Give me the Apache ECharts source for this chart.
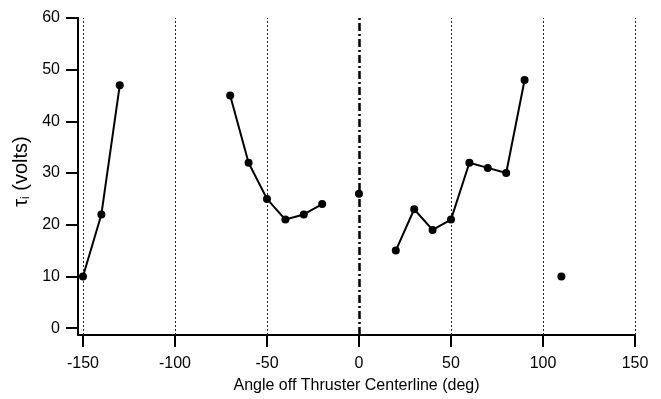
<!DOCTYPE html>
<html>
<head>
<meta charset="utf-8">
<script src="https://cdn.jsdelivr.net/npm/echarts@6/dist/echarts.min.js"></script>
<style>
  html, body { margin: 0; padding: 0; background: #fff; }
  #chart { width: 661px; height: 399px; }
</style>
</head>
<body>
<div id="chart"></div>
<script>
// Ion temperature vs. angle, measured in separate sweeps
const sweepA_angle = [-150, -140, -130];
const sweepA_tau   = [10, 22, 47];
const sweepB_angle = [-70, -60, -50, -40, -30, -20];
const sweepB_tau   = [45, 32, 25, 21, 22, 24];
const centerAngle  = [0];
const centerTau    = [26];
const sweepC_angle = [20, 30, 40, 50, 60, 70, 80, 90];
const sweepC_tau   = [15, 23, 19, 21, 32, 31, 30, 48];
const farAngle     = [110];
const farTau       = [10];

const xTicks = [-150, -100, -50, 0, 50, 100, 150];
const yTicks = [0, 10, 20, 30, 40, 50, 60];
const dottedRefs = [-150, -100, -50, 50, 100, 150];
const centerline = 0;

const FONT = '"Liberation Sans", Arial, Helvetica, sans-serif';

function pairs(xs, ys) { return xs.map((x, i) => [x, ys[i]]); }

function sweep(xs, ys, extra) {
  return Object.assign({
    type: 'line',
    data: pairs(xs, ys),
    symbol: 'circle',
    symbolSize: 8,
    itemStyle: { color: '#000' },
    lineStyle: { color: '#000', width: 2 },
    animation: false,
    z: 5
  }, extra || {});
}

const chart = echarts.init(document.getElementById('chart'));
chart.setOption({
  backgroundColor: '#fff',
  animation: false,
  grid: { left: 78, right: 26, top: 18, bottom: 59, containLabel: false },
  xAxis: {
    type: 'value',
    min: -152.7,
    max: 150,
    name: 'Angle off Thruster Centerline (deg)',
    nameLocation: 'middle',
    nameGap: 43,
    nameTextStyle: { fontFamily: FONT, fontSize: 16, color: '#000' },
    axisLine: { show: true, onZero: false, lineStyle: { color: '#000', width: 2 } },
    axisTick: { show: true, customValues: xTicks, length: 12, inside: false,
                lineStyle: { color: '#000', width: 2 } },
    axisLabel: { customValues: xTicks, fontFamily: FONT, fontSize: 16, color: '#000', margin: 21 },
    splitLine: { show: false }
  },
  yAxis: {
    type: 'value',
    min: -1.33,
    max: 60,
    name: '{t|τ}{s|i}{t| (volts)}',
    nameLocation: 'middle',
    nameGap: 42,
    nameRotate: 90,
    nameTextStyle: {
      color: '#000',
      padding: [0, 0, 0, 10],
      rich: {
        t: { fontFamily: FONT, fontSize: 20, color: '#000' },
        s: { fontFamily: FONT, fontSize: 12, color: '#000', padding: [8, 0, 0, 0] }
      }
    },
    axisLine: { show: true, onZero: false, lineStyle: { color: '#000', width: 2 } },
    axisTick: { show: true, customValues: yTicks, length: 12, lineStyle: { color: '#000', width: 2 } },
    axisLabel: { customValues: yTicks, fontFamily: FONT, fontSize: 16, color: '#000', margin: 18 },
    splitLine: { show: false }
  },
  series: [
    sweep(sweepA_angle, sweepA_tau, {
      markLine: {
        silent: true,
        symbol: 'none',
        label: { show: false },
        animation: false,
        data: dottedRefs.map(v => ({ xAxis: v, lineStyle: { color: '#222', width: 1, type: [2, 2] } }))
          .concat([{ xAxis: centerline, lineStyle: { color: '#000', width: 2.5, type: [8, 3, 2, 3] } }])
      }
    }),
    sweep(sweepB_angle, sweepB_tau),
    sweep(centerAngle, centerTau),
    sweep(sweepC_angle, sweepC_tau),
    sweep(farAngle, farTau)
  ]
});
</script>
</body>
</html>
